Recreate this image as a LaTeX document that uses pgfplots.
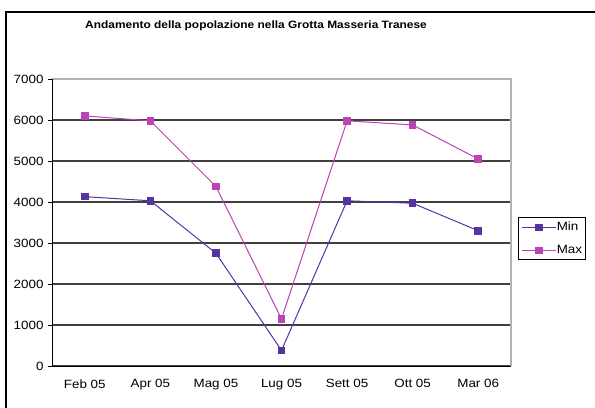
\documentclass[border=0pt]{standalone}
\usepackage{pgfplots}
\pgfplotsset{compat=1.18}
\usepackage{fontspec}
\setmainfont{Liberation Sans}[FakeStretch=1.12]
\definecolor{minc}{HTML}{5533A0}
\definecolor{maxc}{HTML}{BB44B4}
\definecolor{gridc}{HTML}{404040}
\begin{document}
\begin{tikzpicture}[x=1bp,y=1bp]
\useasboundingbox (0,0) rectangle (595,407);
\draw[line width=1.2bp,black] (6,-5) -- (6,395) -- (602,395);
\node[font=\bfseries\fontsize{10.7}{13}\selectfont] at (256,381) {Andamento della popolazione nella Grotta Masseria Tranese};
\begin{axis}[
  at={(52bp,41bp)}, anchor=south west,
  scale only axis, width=459bp, height=287bp,
  xmin=0.5, xmax=7.5, ymin=0, ymax=7000,
  xtick={1,...,7},
  xticklabels={Feb 05,Apr 05,Mag 05,Lug 05,Sett 05,Ott 05,Mar 06},
  minor xtick={0.5,1.5,...,7.5},
  ytick={0,1000,...,7000},
  tick pos=left,
  tick align=outside,
  major tick length=4bp, minor tick length=5bp,
  xtick style={draw=none},
  minor tick style={black, line width=0.8bp},
  ytick style={black, line width=0.8bp},
  xticklabel style={yshift=-6bp},
  ymajorgrids, grid style={gridc, line width=1.3bp},
  axis line style={draw=none},
  ticklabel style={font=\fontsize{12}{14}\selectfont},
  /pgf/number format/assume math mode=true,
  /pgf/number format/1000 sep={},
  yticklabel style={xshift=-1bp},
  clip=false,
  legend style={at={(1.015,0.369)}, anchor=south west, draw=black, line width=0.8bp,
    font=\fontsize{12}{14}\selectfont, inner xsep=3bp, inner ysep=4bp, row sep=12bp,
    nodes={inner sep=0.5bp}},
  legend cell align=left,
  legend image code/.code={%
    \draw[mark repeat=2,mark phase=2,line width=1bp] plot coordinates {(0bp,0bp) (17bp,0bp) (34bp,0bp)};},
  every axis plot/.append style={line width=1bp, mark=square*, mark size=3.3bp},
]
\draw[gray!60, line width=1.3bp] (rel axis cs:0,1) -- (rel axis cs:1,1) -- (rel axis cs:1,0);
\draw[black, line width=1bp] (rel axis cs:0,1) -- (rel axis cs:0,0) -- (rel axis cs:1,0);
\addplot[color=minc, mark options={fill=minc, draw=minc}] coordinates {
  (1,4130) (2,4030) (3,2750) (4,380) (5,4030) (6,3970) (7,3300)};
\addlegendentry{Min}
\addplot[color=maxc, mark options={fill=maxc, draw=maxc}] coordinates {
  (1,6100) (2,5980) (3,4380) (4,1150) (5,5980) (6,5880) (7,5050)};
\addlegendentry{Max}
\end{axis}
\end{tikzpicture}
\end{document}
